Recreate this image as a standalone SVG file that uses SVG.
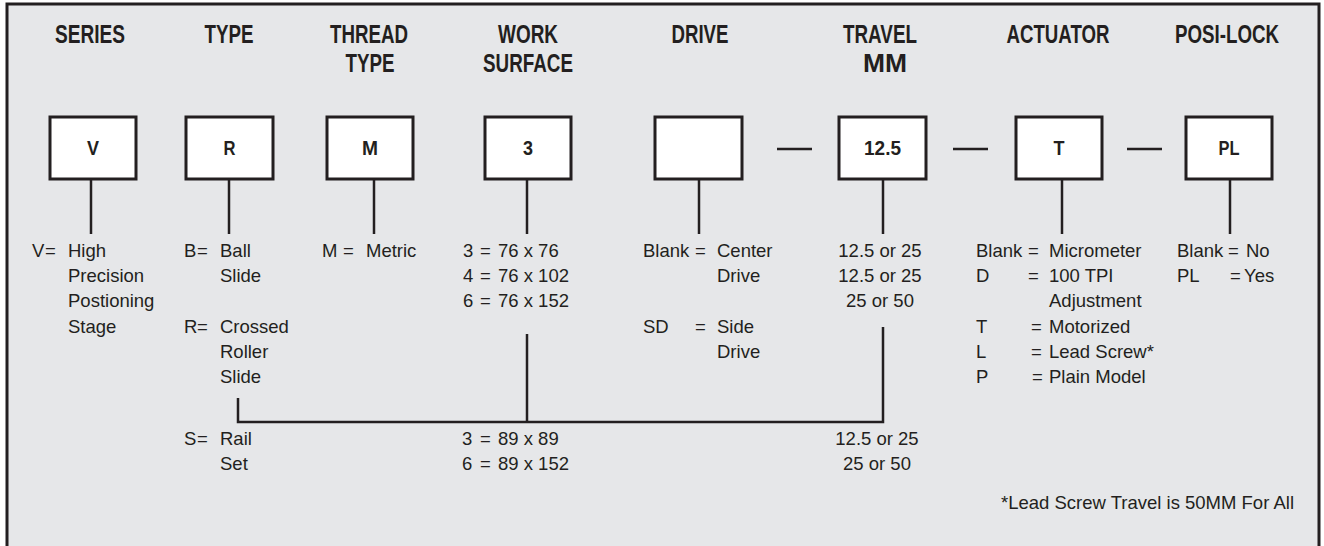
<svg xmlns="http://www.w3.org/2000/svg" width="1324" height="546" viewBox="0 0 1324 546">
<style>
.h{font-family:"Liberation Sans",Arial,sans-serif;font-weight:bold;font-size:25px;fill:#231f20;text-anchor:middle}
.b{font-family:"Liberation Sans",Arial,sans-serif;font-weight:bold;font-size:21px;fill:#231f20;text-anchor:middle}
.t{font-family:"Liberation Sans",Arial,sans-serif;font-size:18.5px;fill:#231f20}
.c{text-anchor:middle}
.e{text-anchor:end}
.box{fill:#ffffff;stroke:#231f20;stroke-width:3}
.ln{stroke:#231f20;stroke-width:2.5;fill:none}
</style>
<rect x="0" y="0" width="1324" height="546" fill="#ffffff"/>
<rect x="7" y="4" width="1312" height="560" fill="#e6e7e9" stroke="#231f20" stroke-width="3"/>

<g id="headings">
<text class="h" x="90" y="43" textLength="70" lengthAdjust="spacingAndGlyphs">SERIES</text>
<text class="h" x="229" y="43" textLength="49" lengthAdjust="spacingAndGlyphs">TYPE</text>
<text class="h" x="369" y="43" textLength="78" lengthAdjust="spacingAndGlyphs">THREAD</text>
<text class="h" x="370" y="72" textLength="49" lengthAdjust="spacingAndGlyphs">TYPE</text>
<text class="h" x="528" y="43" textLength="60" lengthAdjust="spacingAndGlyphs">WORK</text>
<text class="h" x="528" y="72" textLength="90" lengthAdjust="spacingAndGlyphs">SURFACE</text>
<text class="h" x="700" y="43" textLength="57" lengthAdjust="spacingAndGlyphs">DRIVE</text>
<text class="h" x="880" y="43" textLength="74" lengthAdjust="spacingAndGlyphs">TRAVEL</text>
<text class="h" x="885" y="72" textLength="44" lengthAdjust="spacingAndGlyphs">MM</text>
<text class="h" x="1058" y="43" textLength="103" lengthAdjust="spacingAndGlyphs">ACTUATOR</text>
<text class="h" x="1227" y="43" textLength="104" lengthAdjust="spacingAndGlyphs">POSI-LOCK</text>
</g>

<g id="node-series">
<rect class="box" x="50" y="117" width="86" height="62"/>
<text class="b" x="93" y="155" textLength="12" lengthAdjust="spacingAndGlyphs">V</text>
</g>
<g id="node-type">
<rect class="box" x="186" y="117" width="87" height="62"/>
<text class="b" x="229.5" y="155" textLength="12" lengthAdjust="spacingAndGlyphs">R</text>
</g>
<g id="node-thread">
<rect class="box" x="327" y="117" width="86" height="62"/>
<text class="b" x="370" y="155" textLength="16" lengthAdjust="spacingAndGlyphs">M</text>
</g>
<g id="node-work">
<rect class="box" x="485" y="117" width="86" height="62"/>
<text class="b" x="528" y="155" textLength="10" lengthAdjust="spacingAndGlyphs">3</text>
</g>
<g id="node-drive">
<rect class="box" x="655" y="117" width="87" height="62"/>
</g>
<g id="node-travel">
<rect class="box" x="839" y="117" width="87" height="62"/>
<text class="b" x="882.5" y="155" textLength="37" lengthAdjust="spacingAndGlyphs">12.5</text>
</g>
<g id="node-actuator">
<rect class="box" x="1016" y="117" width="86" height="62"/>
<text class="b" x="1059" y="155" textLength="11" lengthAdjust="spacingAndGlyphs">T</text>
</g>
<g id="node-posilock">
<rect class="box" x="1186" y="117" width="86" height="62"/>
<text class="b" x="1229" y="155" textLength="21" lengthAdjust="spacingAndGlyphs">PL</text>
</g>

<g id="connectors">
<line class="ln" x1="91" y1="179" x2="91" y2="234"/>
<line class="ln" x1="229" y1="179" x2="229" y2="234"/>
<line class="ln" x1="374" y1="179" x2="374" y2="234"/>
<line class="ln" x1="527" y1="179" x2="527" y2="234"/>
<line class="ln" x1="699" y1="179" x2="699" y2="234"/>
<line class="ln" x1="883" y1="179" x2="883" y2="234"/>
<line class="ln" x1="1062" y1="179" x2="1062" y2="234"/>
<line class="ln" x1="1230" y1="179" x2="1230" y2="234"/>
<line class="ln" x1="777" y1="149" x2="812" y2="149"/>
<line class="ln" x1="953" y1="149" x2="988" y2="149"/>
<line class="ln" x1="1127" y1="149" x2="1162" y2="149"/>
<polyline class="ln" points="238,398 238,422 883,422 883,327"/>
<line class="ln" x1="527" y1="334" x2="527" y2="422"/>
</g>

<g id="desc-series">
<text class="t" x="32" y="257">V</text><text class="t" x="45" y="257">=</text>
<text class="t" x="68" y="257">High</text>
<text class="t" x="68" y="282">Precision</text>
<text class="t" x="68" y="307">Postioning</text>
<text class="t" x="68" y="333">Stage</text>
</g>

<g id="desc-type">
<text class="t" x="184" y="257">B</text><text class="t" x="197" y="257">=</text>
<text class="t" x="220" y="257">Ball</text>
<text class="t" x="220" y="282">Slide</text>
<text class="t" x="184" y="333">R</text><text class="t" x="197" y="333">=</text>
<text class="t" x="220" y="333">Crossed</text>
<text class="t" x="220" y="358">Roller</text>
<text class="t" x="220" y="383">Slide</text>
<text class="t" x="184" y="445">S</text><text class="t" x="197" y="445">=</text>
<text class="t" x="220" y="445">Rail</text>
<text class="t" x="220" y="470">Set</text>
</g>

<g id="desc-thread">
<text class="t" x="322" y="257">M</text><text class="t" x="343" y="257">=</text>
<text class="t" x="366" y="257">Metric</text>
</g>

<g id="desc-work">
<text class="t" x="463" y="257">3</text><text class="t" x="480" y="257">=</text><text class="t" x="498" y="257">76 x 76</text>
<text class="t" x="463" y="282">4</text><text class="t" x="480" y="282">=</text><text class="t" x="498" y="282">76 x 102</text>
<text class="t" x="463" y="307">6</text><text class="t" x="480" y="307">=</text><text class="t" x="498" y="307">76 x 152</text>
<text class="t" x="462" y="445">3</text><text class="t" x="480" y="445">=</text><text class="t" x="498" y="445">89 x 89</text>
<text class="t" x="462" y="470">6</text><text class="t" x="480" y="470">=</text><text class="t" x="498" y="470">89 x 152</text>
</g>

<g id="desc-drive">
<text class="t" x="643" y="257">Blank</text><text class="t" x="695" y="257">=</text>
<text class="t" x="717" y="257">Center</text>
<text class="t" x="717" y="282">Drive</text>
<text class="t" x="643" y="333">SD</text><text class="t" x="695" y="333">=</text>
<text class="t" x="717" y="333">Side</text>
<text class="t" x="717" y="358">Drive</text>
</g>

<g id="desc-travel">
<text class="t c" x="880" y="257">12.5 or 25</text>
<text class="t c" x="880" y="282">12.5 or 25</text>
<text class="t c" x="880" y="307">25 or 50</text>
<text class="t c" x="877" y="445">12.5 or 25</text>
<text class="t c" x="877" y="470">25 or 50</text>
</g>

<g id="desc-actuator">
<text class="t" x="976" y="257">Blank</text><text class="t" x="1028" y="257">=</text><text class="t" x="1049" y="257">Micrometer</text>
<text class="t" x="976" y="282">D</text><text class="t" x="1028" y="282">=</text><text class="t" x="1049" y="282">100 TPI</text>
<text class="t" x="1049" y="307">Adjustment</text>
<text class="t" x="976" y="333">T</text><text class="t" x="1031" y="333">=</text><text class="t" x="1049" y="333">Motorized</text>
<text class="t" x="976" y="358">L</text><text class="t" x="1031" y="358">=</text><text class="t" x="1049" y="358">Lead Screw*</text>
<text class="t" x="976" y="383">P</text><text class="t" x="1032" y="383">=</text><text class="t" x="1049" y="383">Plain Model</text>
</g>

<g id="desc-posilock">
<text class="t" x="1177" y="257">Blank</text><text class="t" x="1228" y="257">=</text><text class="t" x="1246" y="257">No</text>
<text class="t" x="1177" y="282">PL</text><text class="t" x="1230" y="282">=</text><text class="t" x="1244" y="282">Yes</text>
</g>

<text class="t e" x="1294" y="509">*Lead Screw Travel is 50MM For All</text>
</svg>
